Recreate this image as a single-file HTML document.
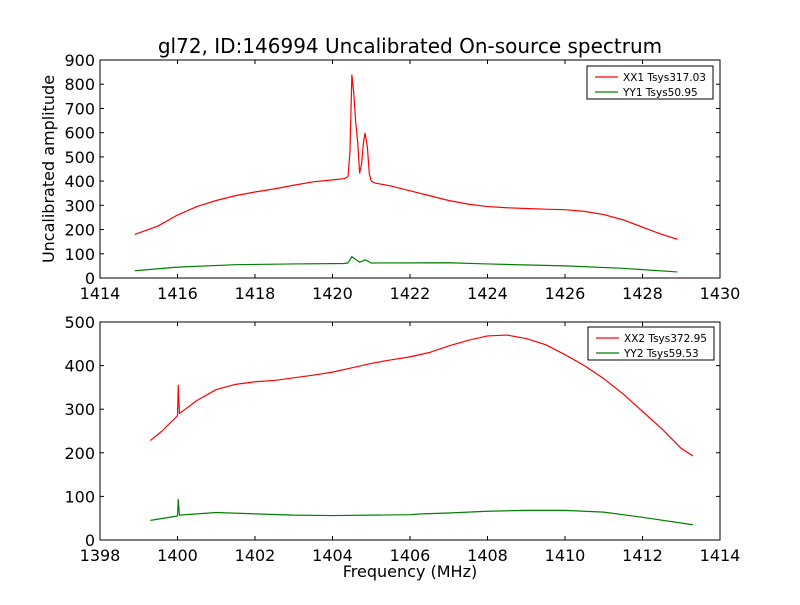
<!DOCTYPE html>
<html><head><meta charset="utf-8"><style>
body{margin:0;background:#fff;}
svg text{font-family:"DejaVu Sans","Liberation Sans",sans-serif;}
</style></head><body>
<svg id="c" width="800" height="600" xmlns="http://www.w3.org/2000/svg"></svg>
<script>
const title = "gl72, ID:146994 Uncalibrated On-source spectrum";
const xx1Freq = [1414.9,1415.5,1416,1416.5,1417,1417.5,1418,1418.5,1419,1419.5,1420,1420.3,1420.4,1420.45,1420.5,1420.55,1420.6,1420.65,1420.7,1420.75,1420.8,1420.84,1420.9,1420.95,1421.0,1421.1,1421.5,1422,1422.5,1423,1423.5,1424,1424.5,1425,1425.5,1426,1426.5,1427,1427.5,1428,1428.5,1428.9];
const xx1Vals = [180,215,260,295,320,340,355,368,383,397,405,410,418,520,838,760,640,560,433,470,560,598,540,430,400,392,380,360,340,320,305,295,290,287,284,282,275,262,240,210,180,160];
const yy1Freq = [1414.9,1416,1417.5,1419,1420.3,1420.4,1420.5,1420.7,1420.85,1421,1423,1424,1426,1427.5,1428.9];
const yy1Vals = [30,45,55,58,60,62,88,65,75,62,63,58,50,40,25];
const xx2Freq = [1399.3,1399.6,1400,1400.02,1400.05,1400.5,1401,1401.5,1402,1402.5,1403,1403.5,1404,1404.5,1405,1405.5,1406,1406.5,1407,1407.5,1408,1408.5,1409,1409.5,1410,1410.5,1411,1411.5,1412,1412.5,1413,1413.3];
const xx2Vals = [228,250,285,355,290,320,345,357,363,366,372,378,385,395,405,413,420,430,445,458,468,470,462,448,425,400,370,335,295,255,210,193];
const yy2Freq = [1399.3,1400,1400.02,1400.05,1401,1402,1403,1404,1405,1406,1406.3,1407,1408,1409,1410,1411,1412,1413.3];
const yy2Vals = [45,55,93,57,63,60,57,56,57,58,60,62,66,68,68,64,52,35];
const xTicks1 = [1414,1416,1418,1420,1422,1424,1426,1428,1430];
const yTicks1 = [0,100,200,300,400,500,600,700,800,900];
const xTicks2 = [1398,1400,1402,1404,1406,1408,1410,1412,1414];
const yTicks2 = [0,100,200,300,400,500];

const svg = document.getElementById('c');
const NS = "http://www.w3.org/2000/svg";
function mk(tag, attrs, parent){const e=document.createElementNS(NS,tag);for(const k in attrs)e.setAttribute(k,attrs[k]);(parent||svg).appendChild(e);return e;}

function panel(name, box, xd, yd, xt, yt, series, legend){
  const g = mk('g',{});
  
  
  const xs = v => box.x + (v-xd[0])/(xd[1]-xd[0])*box.w;
  const ys = v => box.y + box.h - (v-yd[0])/(yd[1]-yd[0])*box.h;
  xt.forEach(t=>{
    const X=xs(t);
    mk('line',{x1:X,x2:X,y1:box.y+box.h,y2:box.y+box.h-4,stroke:'#000'},g);
    mk('line',{x1:X,x2:X,y1:box.y,y2:box.y+4,stroke:'#000'},g);
    const tx=mk('text',{x:X,y:box.y+box.h+21,'text-anchor':'middle','font-size':16},g);
    tx.textContent=t;
    
    
  });
  yt.forEach(t=>{
    const Y=ys(t);
    mk('line',{x1:box.x,x2:box.x+4,y1:Y,y2:Y,stroke:'#000'},g);
    mk('line',{x1:box.x+box.w,x2:box.x+box.w-4,y1:Y,y2:Y,stroke:'#000'},g);
    const tx=mk('text',{x:box.x-5,y:Y+6,'text-anchor':'end','font-size':16},g);
    tx.textContent=t;
    
    
  });
  series.forEach(s=>{
    const pts=s.f.map((f,i)=>xs(f).toFixed(2)+','+ys(s.v[i]).toFixed(2)).join(' ');
    const p=mk('polyline',{points:pts,fill:'none',stroke:s.c,'stroke-width':1.2,'stroke-linejoin':'round'},g);
    
    
  });
  mk('rect',{x:box.x,y:box.y,width:box.w,height:box.h,fill:'none',stroke:'#000'},g);
  const lg=mk('g',{},g);
  
  
  mk('rect',{x:legend.x,y:legend.y,width:126,height:33,fill:'#fff',stroke:'#000'},lg);
  legend.items.forEach((it,i)=>{
    const Y=legend.y+11+i*15;
    mk('line',{x1:legend.x+8,x2:legend.x+31,y1:Y,y2:Y,stroke:it.c,'stroke-width':1.2},lg);
    const tx=mk('text',{x:legend.x+36,y:Y+4,'font-size':10.5},lg);
    tx.textContent=it.t;
    
    
  });
}

const t=mk('text',{x:410,y:53,'text-anchor':'middle','font-size':20});
t.textContent=title;



panel('top-panel',{x:100,y:60,w:620,h:218},[1414,1430],[0,900],xTicks1,yTicks1,
  [{f:xx1Freq,v:xx1Vals,c:'#ff0000',n:'xx1-line'},{f:yy1Freq,v:yy1Vals,c:'#008000',n:'yy1-line'}],
  {x:587,y:66,items:[{c:'#ff0000',t:'XX1 Tsys317.03'},{c:'#008000',t:'YY1 Tsys50.95'}]});
panel('bottom-panel',{x:100,y:322,w:620,h:218},[1398,1414],[0,500],xTicks2,yTicks2,
  [{f:xx2Freq,v:xx2Vals,c:'#ff0000',n:'xx2-line'},{f:yy2Freq,v:yy2Vals,c:'#008000',n:'yy2-line'}],
  {x:588,y:327,items:[{c:'#ff0000',t:'XX2 Tsys372.95'},{c:'#008000',t:'YY2 Tsys59.53'}]});

const yl=mk('text',{x:0,y:0,'text-anchor':'middle','font-size':16,transform:'translate(54,169) rotate(-90)'});
yl.textContent='Uncalibrated amplitude';


const xl=mk('text',{x:410,y:577,'text-anchor':'middle','font-size':16});
xl.textContent='Frequency (MHz)';


</script>
</body></html>
